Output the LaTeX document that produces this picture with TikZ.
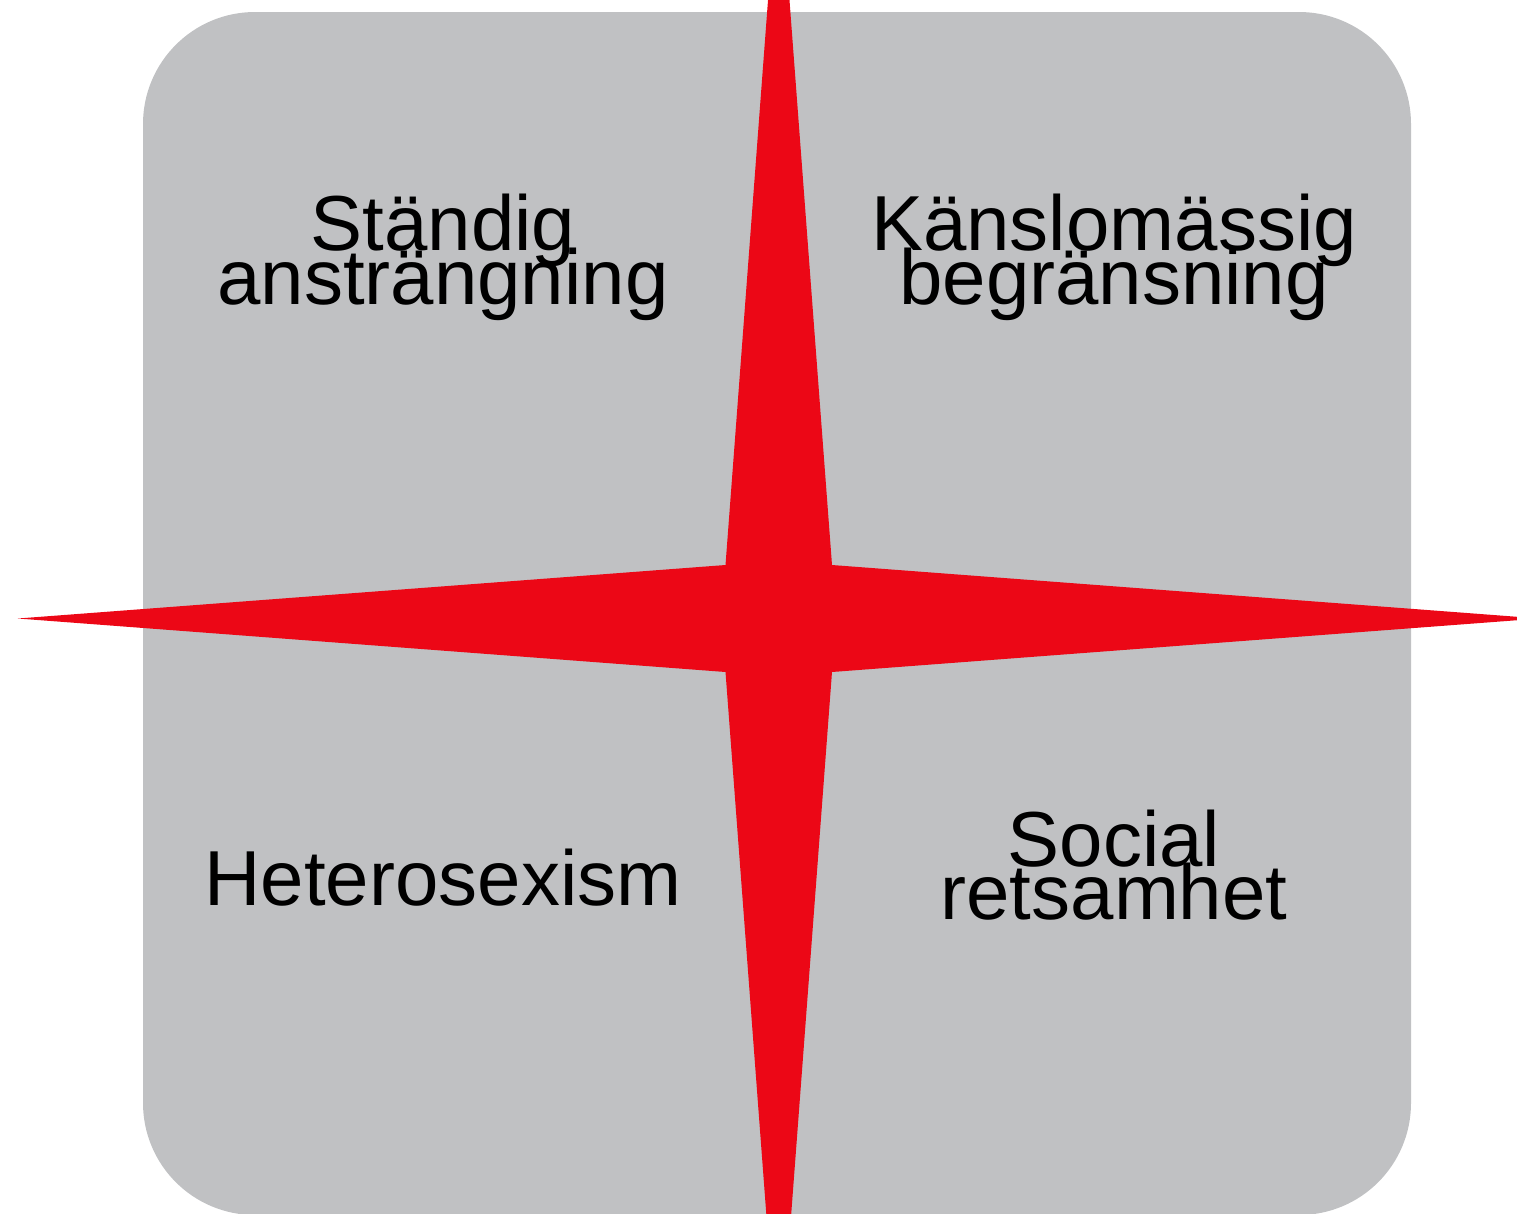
\documentclass[tikz,border=0pt]{standalone}
\usepackage{fontspec}
\setmainfont{Liberation Sans}
\definecolor{panelgray}{RGB}{192,193,195}
\definecolor{starred}{RGB}{236,7,22}
\begin{document}
\begin{tikzpicture}[x=1pt,y=-1pt,
  label/.style={inner sep=0pt,anchor=base,font=\fontsize{78pt}{52pt}\selectfont,text=black}]
\useasboundingbox (0,0) rectangle (1517,1213);
\clip (0,0) rectangle (1517,1213);
% panel
\fill[panelgray,rounded corners=112pt] (143,12) rectangle (1411,1215);
% star
\coordinate (c) at (778.75,618.5);
\coordinate (tipN) at (778.75,-142.5);
\coordinate (tipE) at (1539.75,618.5);
\coordinate (tipS) at (778.75,1379.5);
\coordinate (tipW) at (17.75,618.5);
\coordinate (inNE) at (832,565);
\coordinate (inSE) at (832,672);
\coordinate (inSW) at (725.5,672);
\coordinate (inNW) at (725.5,565);
\fill[starred] (tipN) -- (inNE) -- (tipE) -- (inSE) -- (tipS) -- (inSW) -- (tipW) -- (inNW) -- cycle;
% labels
\node[label] (tl1) at (443,250) {Ständig};
\node[label] (tl2) at (443,304) {ansträngning};
\node[label] (tr1) at (1114,250) {Känslomässig};
\node[label] (tr2) at (1114,304) {begränsning};
\node[label] (bl1) at (443,905) {Heterosexism};
\node[label] (br1) at (1114,866) {Social};
\node[label] (br2) at (1114,919) {retsamhet};
\end{tikzpicture}
\end{document}
